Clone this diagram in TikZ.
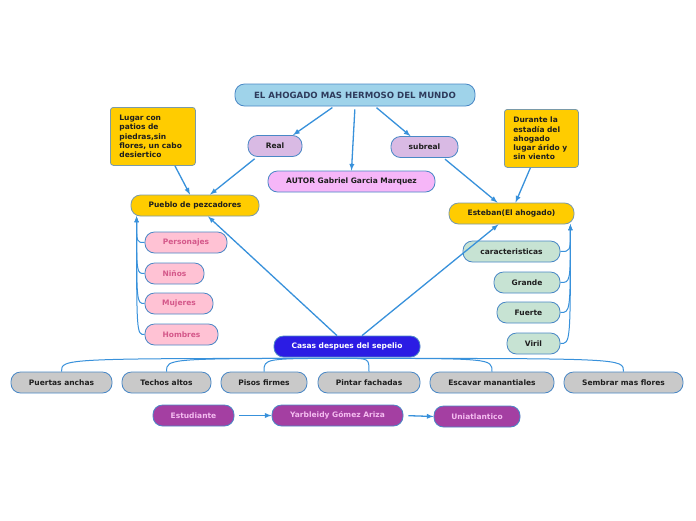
\documentclass[tikz,border=0pt]{standalone}
\usepackage{fontspec}
\setmainfont{DejaVu Sans}
\usepackage{tikz}
\usetikzlibrary{arrows}
\usepackage{xcolor}
\definecolor{linkblue}{HTML}{3891DB}
\definecolor{edgeblue}{HTML}{4A88C6}
\definecolor{titlefill}{HTML}{9FD3EA}
\definecolor{titletext}{HTML}{2E3B5C}
\definecolor{lavfill}{HTML}{D9BAE4}
\definecolor{autorfill}{HTML}{F6B6F8}
\definecolor{notefill}{HTML}{FFCC00}
\definecolor{notedge}{HTML}{7A9AA8}
\definecolor{pinkfill}{HTML}{FFC2D4}
\definecolor{pinktext}{HTML}{D4588A}
\definecolor{greenfill}{HTML}{C7E3D3}
\definecolor{casasfill}{HTML}{2B1CE4}
\definecolor{greyfill}{HTML}{C9C9C9}
\definecolor{purplefill}{HTML}{A43FA2}
\definecolor{purpletext}{HTML}{F4BCF0}
\definecolor{darktext}{HTML}{1E1E1E}
\tikzstyle{bubble}=[draw=edgeblue, line width=0.8pt, rounded corners=9.5pt, minimum height=21pt, inner sep=2pt, text=darktext, font=\bfseries\fontsize{7.5}{9}\selectfont]
\tikzstyle{titleshading}=[bubble, fill=titlefill, text=titletext, minimum height=22pt, font=\bfseries\fontsize{8.6}{10}\selectfont]
\tikzstyle{lavshading}=[bubble, fill=lavfill]
\tikzstyle{autorshading}=[bubble, fill=autorfill]
\tikzstyle{yellowshading}=[bubble, fill=notefill, draw=notedge]
\tikzstyle{pinkshading}=[bubble, fill=pinkfill, text=pinktext]
\tikzstyle{greenshading}=[bubble, fill=greenfill]
\tikzstyle{casashading}=[bubble, fill=casasfill, text=white]
\tikzstyle{greyshading}=[bubble, fill=greyfill]
\tikzstyle{purpleshading}=[bubble, fill=purplefill, text=purpletext]
\tikzstyle{note}=[draw=notedge, line width=0.8pt, fill=notefill, rounded corners=3pt, anchor=north west, align=left, inner xsep=9pt, minimum height=58pt, text=darktext, font=\bfseries\fontsize{7.5}{9.2}\selectfont]
\tikzstyle{link}=[draw=linkblue, line width=1.3pt, -latex]
\tikzstyle{branch}=[draw=linkblue, line width=1pt]
\begin{document}
\begin{tikzpicture}[x=1pt,y=-1pt]
	\useasboundingbox[fill=white] (0,0) rectangle (696,520);
	\node[titleshading, minimum width=240] (title) at (355,95) {EL AHOGADO MAS HERMOSO DEL MUNDO};
	\node[lavshading, minimum width=54] (real) at (275,146) {Real};
	\node[lavshading, minimum width=67] (subreal) at (424.5,147) {subreal};
	\node[autorshading, minimum width=167] (autor) at (351.5,181.5) {AUTOR Gabriel Garcia Marquez};
	\node[note, text width=67pt] (lugar) at (110,107) {Lugar con\\patios de\\piedras,sin\\flores, un cabo\\desiertico};
	\node[note, text width=56pt] (durante) at (504,109) {Durante la\\estadía del\\ahogado\\lugar árido y\\sin viento};
	\node[yellowshading, minimum width=128] (pueblo) at (195,205.5) {Pueblo de pezcadores};
	\node[yellowshading, minimum width=125] (esteban) at (511.5,213.5) {Esteban(El ahogado)};
	\node[pinkshading, minimum width=82] (pers) at (186,242.5) {Personajes};
	\node[pinkshading, minimum width=59] (ninos) at (174.5,273.5) {Niños};
	\node[pinkshading, minimum width=68] (mujeres) at (179,303.5) {Mujeres};
	\node[pinkshading, minimum width=73] (hombres) at (181.5,334.5) {Hombres};
	\node[greenshading, minimum width=97] (caract) at (511.5,251.5) {caracteristicas};
	\node[greenshading, minimum width=66] (grande) at (527,282.5) {Grande};
	\node[greenshading, minimum width=63] (fuerte) at (528.5,312.5) {Fuerte};
	\node[greenshading, minimum width=53] (viril) at (533.5,343.5) {Viril};
	\node[casashading, minimum width=146] (casas) at (347,346.5) {Casas despues del sepelio};
	\node[greyshading, minimum width=101] (puertas) at (61.5,382.5) {Puertas anchas};
	\node[greyshading, minimum width=89] (techos) at (166.5,382.5) {Techos altos};
	\node[greyshading, minimum width=86] (pisos) at (264,382.5) {Pisos firmes};
	\node[greyshading, minimum width=102] (pintar) at (369,382.5) {Pintar fachadas};
	\node[greyshading, minimum width=124] (escavar) at (492,382.5) {Escavar manantiales};
	\node[greyshading, minimum width=119] (sembrar) at (623.5,382.5) {Sembrar mas flores};
	\node[purpleshading, minimum width=81] (estud) at (193.5,415.5) {Estudiante};
	\node[purpleshading, minimum width=131] (yarb) at (337.5,415.5) {Yarbleidy Gómez Ariza};
	\node[purpleshading, minimum width=86] (uniat) at (477,416.5) {Uniatlantico};
	\coordinate (pb) at ([xshift=6]pueblo.south west);
	\coordinate (eb) at ([xshift=-4]esteban.south east);
	\coordinate (cb) at ([yshift=-1]casas.south);
	\draw[link, shorten <=2pt] ([xshift=-21]title.south) -- ([xshift=18]real.north);
	\draw[link, shorten <=3pt] (title.south) -- (autor.north);
	\draw[link, shorten <=2pt] ([xshift=20]title.south) -- ([xshift=-14]subreal.north);
	\draw[link, shorten <=3pt] ([xshift=-18]real.south) -- ([xshift=15]pueblo.north);
	\draw[link] ([xshift=22]lugar.south) -- ([xshift=-5]pueblo.north);
	\draw[link, shorten <=2pt] ([xshift=19]subreal.south) -- ([xshift=-14]esteban.north);
	\draw[link] ([xshift=-11]durante.south) -- ([xshift=4]esteban.north);
	\draw[link] ([xshift=-10]casas.north) -- ([xshift=13]pueblo.south);
	\draw[link] ([xshift=15]casas.north) -- ([xshift=-13]esteban.south);
	\foreach \kid in {pers,ninos,mujeres,hombres}
		\draw[link, line width=1pt] (\kid.west) .. controls (pb |- \kid.west) .. (pb);
	\foreach \kid in {caract,grande,fuerte,viril}
		\draw[link, line width=1pt] (\kid.east) .. controls (eb |- \kid.east) .. (eb);
	\foreach \kid in {puertas,techos,pisos,pintar,escavar,sembrar}
		\draw[branch] (cb) .. controls (\kid.north |- cb) .. (\kid.north);
	\draw[link, shorten <=5pt] (estud.east) -- (yarb.west);
	\draw[link, shorten <=5pt] (yarb.east) -- (uniat.west);
\end{tikzpicture}
\end{document}
